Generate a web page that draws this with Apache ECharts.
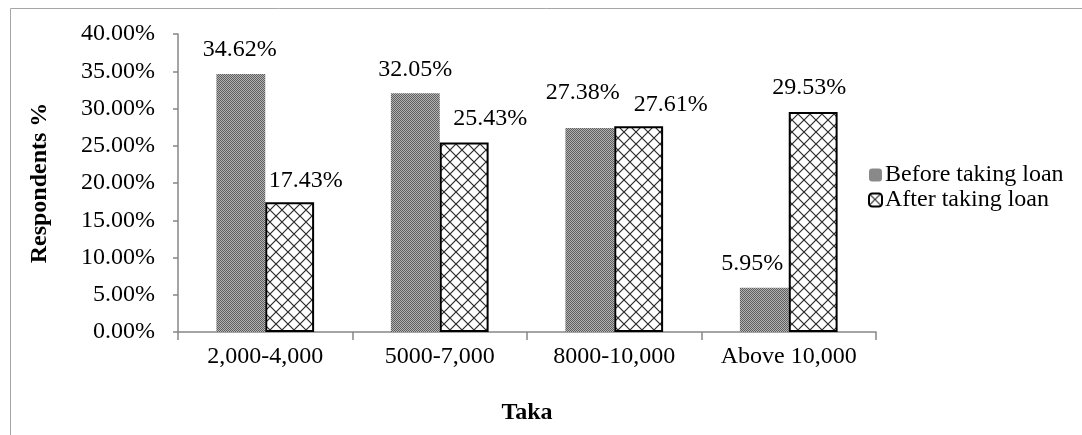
<!DOCTYPE html>
<html>
<head>
<meta charset="utf-8">
<script src="https://cdn.jsdelivr.net/npm/echarts@6/dist/echarts.min.js"></script>
<style>
  html, body { margin: 0; padding: 0; background: #fff; }
  #chart { width: 1082px; height: 435px; }
</style>
</head>
<body>
<div id="chart"></div>
<script>
// Monthly income brackets (Taka) and share of respondents
const categories = ['2,000-4,000', '5000-7,000', '8000-10,000', 'Above 10,000'];
const beforeLoan = [34.62, 32.05, 27.38, 5.95];
const afterLoan = [17.43, 25.43, 27.61, 29.53];
const seriesNames = ['Before taking loan', 'After taking loan'];

// Hand-placed nudges for the value labels, [dx, dy] in pixels
const beforeLabelShift = [[-1, 0], [0, 0], [-7, -11], [-12, 0]];
const afterLabelShift = [[16, 3], [26, 0], [32, 2], [-4, 0]];

const FONT = "'Times New Roman', 'Liberation Serif', serif";
const AXIS_GRAY = '#878787';
const FS = 24;

// Fine dotted fill for the "before" bars
function checkerPattern() {
  const c = document.createElement('canvas');
  c.width = 2; c.height = 2;
  const g = c.getContext('2d');
  g.fillStyle = '#b4b4b4';
  g.fillRect(0, 0, 2, 2);
  g.fillStyle = '#5e5e5e';
  g.fillRect(0, 0, 1, 1);
  g.fillRect(1, 1, 1, 1);
  return c;
}

// Diagonal cross-hatch fill for the "after" bars
function crossPattern() {
  const s = 12;
  const c = document.createElement('canvas');
  c.width = s; c.height = s;
  const g = c.getContext('2d');
  g.fillStyle = '#ffffff';
  g.fillRect(0, 0, s, s);
  g.strokeStyle = '#2a2a2a';
  g.lineWidth = 1.2;
  g.beginPath();
  g.moveTo(0, 0); g.lineTo(s, s);
  g.moveTo(s, 0); g.lineTo(0, s);
  g.stroke();
  return c;
}

function withShift(values, shifts) {
  return values.map((v, i) => ({
    value: v,
    label: { offset: shifts[i] }
  }));
}

const labelStyle = {
  show: true,
  position: 'top',
  distance: 12,
  fontFamily: FONT,
  fontSize: FS,
  color: '#000',
  formatter: p => p.value.toFixed(2) + '%'
};

const chart = echarts.init(document.getElementById('chart'), null, { renderer: 'canvas' });

chart.setOption({
  animation: false,
  backgroundColor: '#fff',
  textStyle: { fontFamily: FONT },
  graphic: [{
    type: 'rect',
    left: 8, top: 6,
    shape: { width: 1200, height: 600 },
    style: { fill: 'none', stroke: '#a6a6a6', lineWidth: 1 },
    silent: true
  }],
  grid: { left: 178, right: 206, top: 34, bottom: 103 },
  legend: {
    orient: 'vertical',
    left: 863,
    top: 158,
    itemWidth: 13,
    itemHeight: 13,
    itemGap: 1,
    textStyle: { fontFamily: FONT, fontSize: FS, color: '#000', padding: [0, 0, 0, -2] },
    data: seriesNames
  },
  xAxis: {
    type: 'category',
    data: categories,
    name: 'Taka',
    nameLocation: 'middle',
    nameGap: 69,
    nameTextStyle: { fontFamily: FONT, fontSize: 24, fontWeight: 'bold', color: '#000' },
    axisLine: { lineStyle: { color: AXIS_GRAY, width: 1.5 } },
    axisTick: { show: true, interval: 0, length: 8, lineStyle: { color: AXIS_GRAY, width: 1.5 } },
    axisLabel: { interval: 0, fontFamily: FONT, fontSize: FS, color: '#000', margin: 13 }
  },
  yAxis: {
    type: 'value',
    min: 0,
    max: 40,
    interval: 5,
    name: 'Respondents %',
    nameLocation: 'middle',
    nameGap: 126,
    nameTextStyle: { fontFamily: FONT, fontSize: 24, fontWeight: 'bold', color: '#000' },
    axisLine: { show: true, lineStyle: { color: AXIS_GRAY, width: 1.5 } },
    axisTick: { show: true, length: 5, lineStyle: { color: AXIS_GRAY, width: 1.5 } },
    splitLine: { show: false },
    axisLabel: {
      fontFamily: FONT, fontSize: FS, color: '#000', margin: 23,
      formatter: v => v.toFixed(2) + '%'
    }
  },
  series: [
    {
      name: seriesNames[0],
      type: 'bar',
      barGap: '0%',
      barCategoryGap: '44%',
      itemStyle: { color: { image: checkerPattern(), repeat: 'repeat' } },
      label: labelStyle,
      data: withShift(beforeLoan, beforeLabelShift)
    },
    {
      name: seriesNames[1],
      type: 'bar',
      itemStyle: {
        color: { image: crossPattern(), repeat: 'repeat' },
        borderColor: '#000',
        borderWidth: 2
      },
      label: labelStyle,
      data: withShift(afterLoan, afterLabelShift)
    }
  ]
});
</script>
</body>
</html>
